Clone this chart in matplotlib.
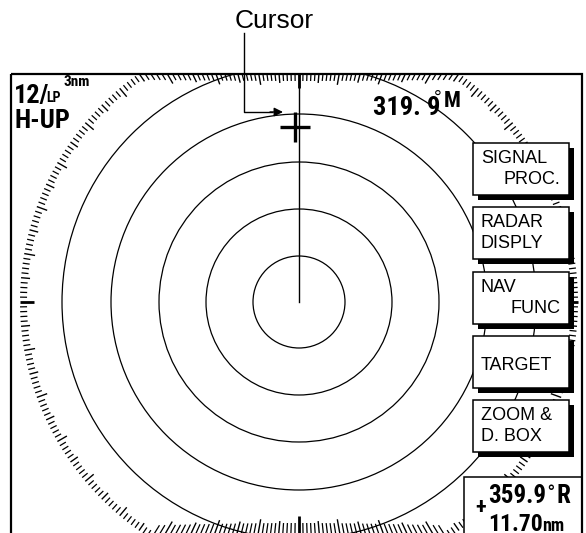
import numpy as np
import matplotlib
matplotlib.use('Agg')
import matplotlib.pyplot as plt
from matplotlib.patches import Rectangle, Circle

# radar picture values
ring_radius = [46, 93, 140, 188, 237]   # range rings, px
range_text = '12/'
pulse_text = 'LP'
ring_text = '3nm'
mode_text = 'H-UP'
heading_text = '319. 9'
heading_ref = 'M'
menu_labels = [('SIGNAL', 'PROC.'), ('RADAR', 'DISPLY'), ('NAV', 'FUNC'),
               ('TARGET', ''), ('ZOOM &', 'D. BOX')]
menu_align = [('left', 'right'), ('left', 'left'), ('left', 'right'),
              ('left', 'left'), ('left', 'left')]
cursor_brg = '359.9'
cursor_rng = '11.70'

NARROW = ['Roboto Condensed', 'Barlow Semi Condensed', 'Liberation Sans', 'DejaVu Sans']
SANS = ['Liberation Sans', 'DejaVu Sans']

fig = plt.figure(figsize=(5.86, 5.33), dpi=100)
ax = fig.add_axes([0, 0, 1, 1])
ax.set_xlim(0, 586)
ax.set_ylim(533, 0)
ax.axis('off')

cx, cy = 299, 302
left, top, right, bottom = 11, 74, 582, 538
frame = Rectangle((left, top), right - left, 480, fill=False, lw=1.6,
                  ec='black', zorder=5)
ax.add_patch(frame)
clip = Rectangle((left, top), right - left, 480, transform=ax.transData)

# range rings
for r in ring_radius:
    c = Circle((cx, cy), r, fill=False, lw=0.9, ec='black', zorder=1)
    ax.add_patch(c)
    c.set_clip_path(clip)

# bearing scale, clipped to the screen edge
R = 279
for deg in range(360):
    th = np.radians(deg)
    dx, dy = np.sin(th), -np.cos(th)
    cand = [R]
    if dy < 0:
        cand.append((cy - top) / -dy)
    if dy > 0:
        cand.append((bottom - cy) / dy)
    if dx < 0:
        cand.append((cx - left) / -dx)
    if dx > 0:
        cand.append((right - cx) / dx)
    tb = min(cand)
    on_bottom = dy > 0 and tb == (bottom - cy) / dy and tb < R
    if deg % 90 == 0:
        L, lw = 14, 2.0
    elif deg % 10 == 0:
        L, lw = 11, 1.0
    elif deg % 5 == 0:
        L, lw = 9, 1.0
    else:
        L, lw = 7, 0.9
    if on_bottom:
        L += 8
    ax.plot([cx + dx * (tb - L), cx + dx * tb], [cy + dy * (tb - L), cy + dy * tb],
            color='black', lw=lw, solid_capstyle='butt', zorder=1)

# cursor line and cursor mark
ax.plot([cx, cx], [cy, top], color='black', lw=1.0, zorder=2)
ax.plot([280, 310], [127, 127], color='black', lw=2.4, solid_capstyle='butt', zorder=2)
ax.plot([295, 295], [112, 142], color='black', lw=2.4, solid_capstyle='butt', zorder=2)

# "Cursor" callout
ax.text(235, 28, 'Cursor', family=SANS, fontsize=19, ha='left', va='baseline')
ax.plot([244, 244, 272], [33, 112, 112], color='black', lw=1.0, zorder=2)
ax.annotate('', xy=(283, 112), xytext=(270, 112),
            arrowprops=dict(arrowstyle='-|>', mutation_scale=13, lw=1.0,
                            color='black', shrinkA=0, shrinkB=0))

# top-left status
ax.text(14, 103, range_text, family=NARROW, fontsize=19, weight='bold', va='baseline')
ax.text(46, 102, pulse_text, family=NARROW, fontsize=10, weight='bold', va='baseline')
ax.text(63, 86, ring_text, family=NARROW, fontsize=11, weight='bold', va='baseline')
ax.text(14, 128, mode_text, family=NARROW, fontsize=19, weight='bold', va='baseline')

# heading readout
ax.text(373, 115, heading_text, family=NARROW, fontsize=19, weight='bold', va='baseline')
ax.text(434, 102.5, '\u00b0', family=SANS, fontsize=14, va='baseline')
ax.text(444, 107, heading_ref, family=NARROW, fontsize=16, weight='bold', va='baseline')

# menu boxes
bx, bw, bh = 473, 96, 52
for i, (labels, aligns) in enumerate(zip(menu_labels, menu_align)):
    by = 143 + i * 64.3
    ax.add_patch(Rectangle((bx + 5, by + 5), bw, bh, fc='black', ec='none', zorder=3))
    ax.add_patch(Rectangle((bx, by), bw, bh, fc='white', ec='black', lw=1.1, zorder=3))
    l1, l2 = labels
    a1, a2 = aligns
    if l2 == '':
        ax.text(bx + 8, by + 34, l1, family=SANS, fontsize=13, va='baseline', zorder=4)
        continue
    for j, (lab, al) in enumerate(((l1, a1), (l2, a2))):
        x = bx + 8 if al == 'left' else bx + 87
        ax.text(x, by + 20 + j * 21, lab, family=SANS, fontsize=13, ha=al,
                va='baseline', zorder=4)

# cursor readout box
ax.add_patch(Rectangle((464, 477), 118, 70, fc='white', ec='black', lw=1.1, zorder=3))
ax.text(481, 508, '+', family=NARROW, fontsize=16, weight='bold', ha='center',
        va='center', zorder=4)
ax.text(488, 503, cursor_brg, family=NARROW, fontsize=18, weight='bold', va='baseline', zorder=4)
ax.text(547, 497, '\u00b0', family=SANS, fontsize=12, weight='bold', va='baseline', zorder=4)
ax.text(557, 503, 'R', family=NARROW, fontsize=18, weight='bold', va='baseline', zorder=4)
ax.text(488, 531, cursor_rng, family=NARROW, fontsize=17, weight='bold', va='baseline', zorder=4)
ax.text(542, 531, 'nm', family=NARROW, fontsize=13, weight='bold', va='baseline', zorder=4)

fig.savefig('out.png', dpi=100)
